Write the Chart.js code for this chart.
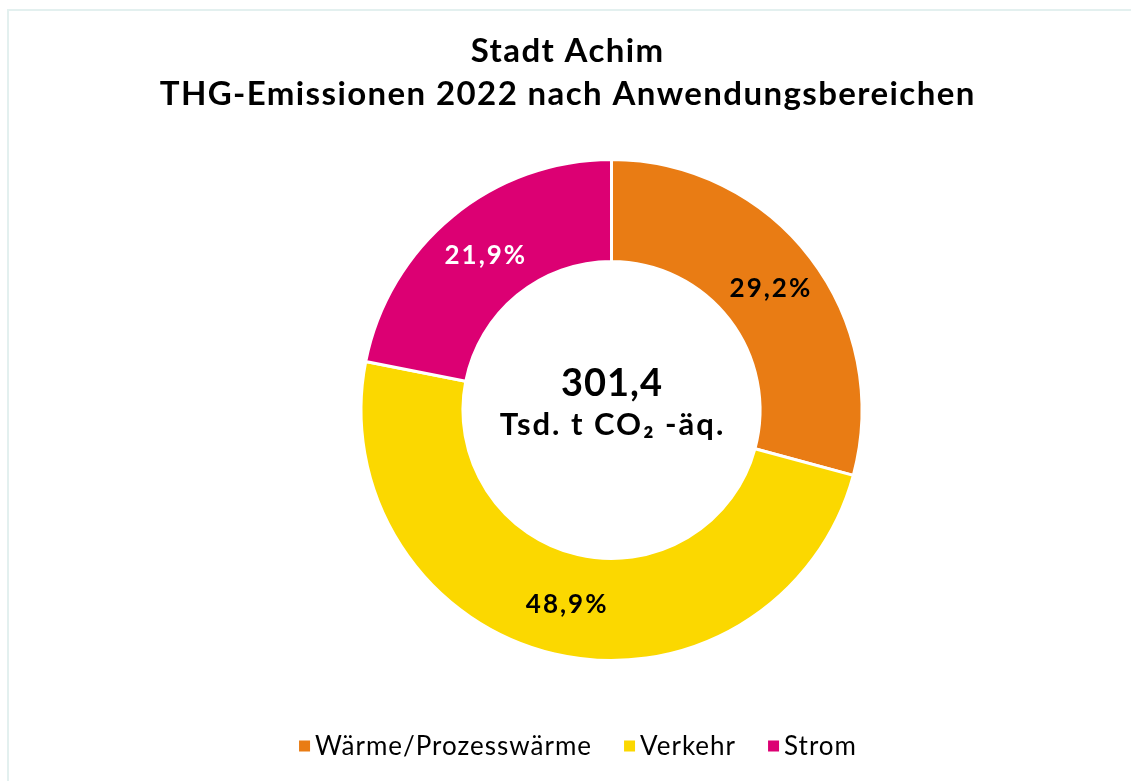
<!DOCTYPE html>
<html><head><meta charset="utf-8">
<script src="https://cdn.jsdelivr.net/npm/chart.js@4.4.1/dist/chart.umd.min.js"></script>
<style>
html,body{margin:0;padding:0;background:#fff;overflow:hidden}
#frame{position:absolute;left:7px;top:9px;width:1200px;height:900px;border-top:2px solid #e3f0ef;border-left:2px solid #e3f0ef}
#wrap{position:absolute;left:0;top:0;width:1131px;height:781px}
</style></head><body>
<div id="frame"></div>
<div id="wrap"><canvas id="c" width="1131" height="781"></canvas></div>
<script>
const titleLines = ['Stadt Achim', 'THG-Emissionen 2022 nach Anwendungsbereichen'];
const categories = ['Wärme/Prozesswärme', 'Verkehr', 'Strom'];
const shares = [29.2, 48.9, 21.9];
const sliceColors = ['#E97C14', '#FBD800', '#DC0073'];
const labelColors = ['#000000', '#000000', '#FFFFFF'];
const totalValue = '301,4';
const totalUnit = 'Tsd. t CO₂ -äq.';

const FONT = 'Lato, "Open Sans", sans-serif';
const fmt = v => v.toFixed(1).replace('.', ',') + '%';

function spacedText(ctx, text, x, y, spacing) {
  // centre-aligned text with letter spacing, compensating the trailing space
  ctx.letterSpacing = spacing + 'px';
  const align = ctx.textAlign;
  if (align === 'center') {
    ctx.fillText(text, x + spacing / 2, y);
  } else {
    ctx.fillText(text, x, y);
  }
  ctx.letterSpacing = '0px';
}

const overlay = {
  id: 'overlay',
  afterDraw(chart) {
    const ctx = chart.ctx;
    const meta = chart.getDatasetMeta(0);
    ctx.save();
    // title
    ctx.fillStyle = '#000';
    ctx.textAlign = 'center';
    ctx.textBaseline = 'alphabetic';
    ctx.font = 'bold 33px ' + FONT;
    spacedText(ctx, titleLines[0], 567, 62, 1.4);
    spacedText(ctx, titleLines[1], 567, 105, 1.4);
    // slice labels
    ctx.textBaseline = 'middle';
    ctx.font = 'bold 26px ' + FONT;
    meta.data.forEach((arc, i) => {
      const p = arc.tooltipPosition();
      ctx.fillStyle = labelColors[i];
      spacedText(ctx, fmt(shares[i]), p.x, p.y, 2);
    });
    // centre text
    const c = meta.data[0];
    ctx.fillStyle = '#000';
    ctx.font = 'bold 38px ' + FONT;
    spacedText(ctx, totalValue, c.x, c.y - 26, 1);
    ctx.font = 'bold 31px ' + FONT;
    spacedText(ctx, totalUnit, c.x, c.y + 15, 2);
    // legend
    ctx.font = '26px ' + FONT;
    ctx.textAlign = 'left';
    ctx.letterSpacing = '1px';
    const box = 11, gapBox = 5, gapItem = 32;
    const widths = categories.map(t => ctx.measureText(t).width);
    const total = widths.reduce((a, w) => a + box + gapBox + w, 0) + gapItem * (categories.length - 1);
    let x = 578 - total / 2;
    const ly = 746;
    categories.forEach((t, i) => {
      ctx.fillStyle = sliceColors[i];
      ctx.fillRect(x, ly - box / 2, box, box);
      x += box + gapBox;
      ctx.fillStyle = '#000';
      ctx.fillText(t, x, ly + 1);
      x += widths[i] + gapItem;
    });
    ctx.letterSpacing = '0px';
    ctx.restore();
  }
};

new Chart(document.getElementById('c'), {
  type: 'doughnut',
  data: {
    labels: categories,
    datasets: [{
      data: shares,
      backgroundColor: sliceColors,
      borderColor: '#FFFFFF',
      borderWidth: 3,
      hoverOffset: 0
    }]
  },
  options: {
    responsive: false,
    animation: false,
    cutout: '59.3%',
    layout: { padding: { top: 158, bottom: 119, left: 100, right: 8 } },
    plugins: {
      legend: { display: false },
      title: { display: false },
      tooltip: { enabled: false }
    }
  },
  plugins: [overlay]
});
</script>
</body></html>
